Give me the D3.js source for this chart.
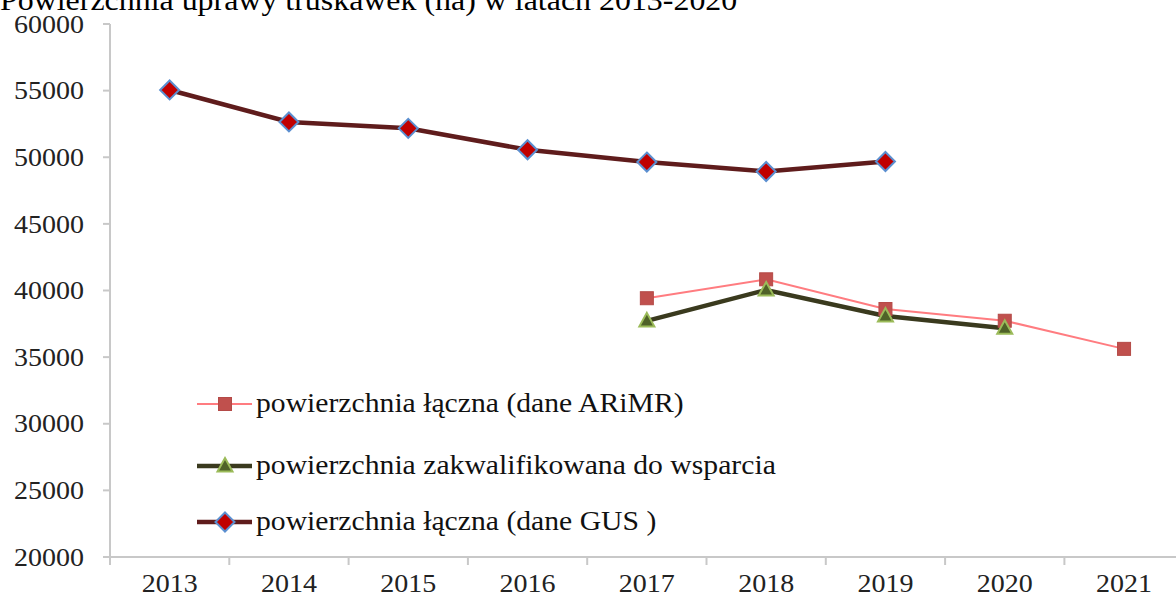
<!DOCTYPE html>
<html><head><meta charset="utf-8">
<script src="https://cdn.jsdelivr.net/npm/d3@7"></script>
<style>body{margin:0;background:#fff;}svg{display:block;font-family:"Liberation Serif","Times New Roman",serif;}</style>
</head><body><svg id="c" width="1176" height="599"></svg>
<script>
const title = "Powierzchnia uprawy truskawek (ha) w latach 2013-2020";
const years = ["2013","2014","2015","2016","2017","2018","2019","2020","2021"];
const yTicks = [20000,25000,30000,35000,40000,45000,50000,55000,60000];
const gusYears = ["2013","2014","2015","2016","2017","2018","2019"];
const gusValues = [55050,52650,52170,50560,49640,48930,49680];
const arimrYears = ["2017","2018","2019","2020","2021"];
const arimrValues = [39420,40840,38610,37730,35620];
const qualYears = ["2017","2018","2019","2020"];
const qualValues = [37720,40040,38090,37170];
const legendLabels = ["powierzchnia łączna (dane ARiMR)","powierzchnia zakwalifikowana do wsparcia","powierzchnia łączna (dane GUS )"];

const svg = d3.select("#c");
const x = d3.scaleBand().domain(years).range([110, 110 + 119.3*9]);
const y = d3.scaleLinear().domain([20000,60000]).range([557,24]);
const cx = d => x(d) + x.bandwidth()/2;
const axisCol = "#c8c8c8";
const sx = (x0) => `translate(${x0},0) scale(1.12,1) translate(${-x0},0)`;

svg.append("text").attr("x",0).attr("y",10).attr("font-size",28.5).attr("fill","#000").attr("transform",sx(0)).text(title);

// y axis
const ya = svg.append("g");
ya.append("line").attr("x1",110).attr("x2",110).attr("y1",y(60000)).attr("y2",y(20000)+1).attr("stroke",axisCol).attr("stroke-width",2);
yTicks.forEach(t=>{
  ya.append("line").attr("x1",103).attr("x2",110).attr("y1",y(t)).attr("y2",y(t)).attr("stroke",axisCol).attr("stroke-width",2);
  ya.append("text").attr("x",84).attr("y",y(t)).attr("dy","0.35em").attr("text-anchor","end")
    .attr("font-size",25).attr("fill","#222").attr("transform",sx(84)).text(d3.format("d")(t));
});
// x axis
const xa = svg.append("g");
xa.append("line").attr("x1",103).attr("x2",1176).attr("y1",y(20000)).attr("y2",y(20000)).attr("stroke",axisCol).attr("stroke-width",2);
years.forEach((yr,i)=>{
  const bx = x(yr);
  xa.append("line").attr("x1",bx).attr("x2",bx).attr("y1",y(20000)).attr("y2",y(20000)+8).attr("stroke",axisCol).attr("stroke-width",2);
  xa.append("text").attr("x",cx(yr)).attr("y",592).attr("text-anchor","middle").attr("font-size",25).attr("fill","#222")
    .attr("transform",sx(cx(yr))).text(yr);
});

const line = d3.line().x(d=>cx(d[0])).y(d=>y(d[1]));
function zip(a,b){return a.map((v,i)=>[v,b[i]]);}

// ARiMR
svg.append("path").datum(zip(arimrYears,arimrValues)).attr("d",line).attr("fill","none").attr("stroke","#ff7c80").attr("stroke-width",2);
// qualified
svg.append("path").datum(zip(qualYears,qualValues)).attr("d",line).attr("fill","none").attr("stroke","#3a3a1e").attr("stroke-width",4.5);
// GUS
svg.append("path").datum(zip(gusYears,gusValues)).attr("d",line).attr("fill","none").attr("stroke","#5f1c1c").attr("stroke-width",4.5);

function square(g,px,py){g.append("rect").attr("x",px-6.5).attr("y",py-6.5).attr("width",13).attr("height",13).attr("fill","#c0504d").attr("stroke","#b44a47").attr("stroke-width",1);}
function tri(g,px,py){g.append("path").attr("d",`M${px},${py-8}L${px+7.5},${py+5.5}L${px-7.5},${py+5.5}Z`).attr("fill","#4f6228").attr("stroke","#9bbb59").attr("stroke-width",2);}
function diamond(g,px,py){g.append("path").attr("d",`M${px},${py-9.5}L${px+9.5},${py}L${px},${py+9.5}L${px-9.5},${py}Z`).attr("fill","#c00000").attr("stroke","#5b8fd0").attr("stroke-width",2);}

const m = svg.append("g");
zip(arimrYears,arimrValues).forEach(d=>square(m,cx(d[0]),y(d[1])));
zip(qualYears,qualValues).forEach(d=>tri(m,cx(d[0]),y(d[1])));
zip(gusYears,gusValues).forEach(d=>diamond(m,cx(d[0]),y(d[1])));

// legend
const lg = svg.append("g");
const ly = [404,466,522];
const lstyles = [{c:"#ff7c80",w:2,mk:square},{c:"#3a3a1e",w:4.5,mk:tri},{c:"#5f1c1c",w:4.5,mk:diamond}];
legendLabels.forEach((t,i)=>{
  lg.append("line").attr("x1",197).attr("x2",252).attr("y1",ly[i]).attr("y2",ly[i]).attr("stroke",lstyles[i].c).attr("stroke-width",lstyles[i].w);
  lstyles[i].mk(lg,225,ly[i]);
  lg.append("text").attr("x",256).attr("y",ly[i]).attr("dy","0.32em").attr("font-size",26.5).attr("fill","#111")
    .attr("transform",sx(256)).text(t);
});
</script></body></html>
